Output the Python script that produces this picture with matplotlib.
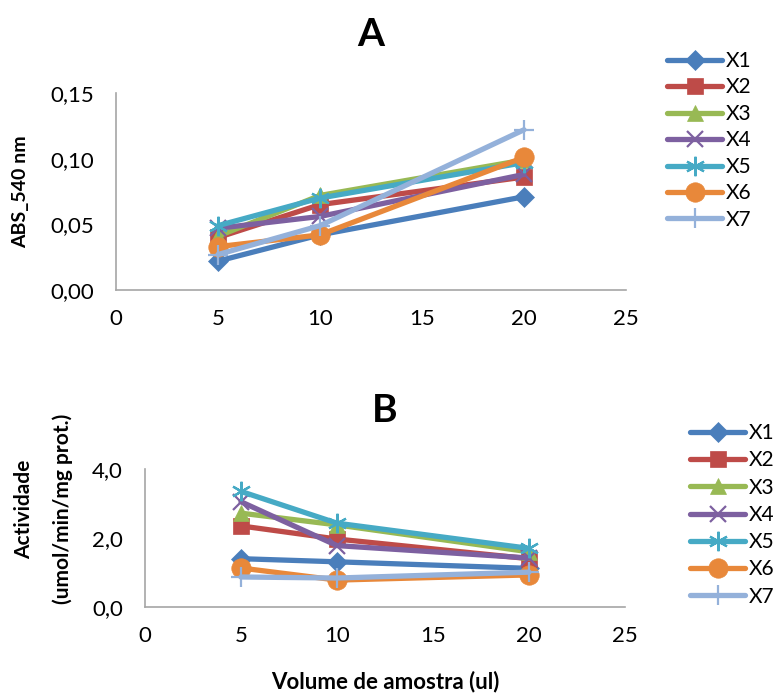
import numpy as np
import matplotlib.pyplot as plt

plt.rcParams['font.family'] = ['Lato', 'DejaVu Sans']

# volume de amostra (ul)
volumes = [5, 10, 20]
series_names = ['X1', 'X2', 'X3', 'X4', 'X5', 'X6', 'X7']

# A: ABS_540 nm
abs_x1 = [0.022, 0.042, 0.071]
abs_x2 = [0.040, 0.065, 0.086]
abs_x3 = [0.041, 0.072, 0.099]
abs_x4 = [0.047, 0.056, 0.088]
abs_x5 = [0.049, 0.070, 0.097]
abs_x6 = [0.033, 0.042, 0.101]
abs_x7 = [0.027, 0.049, 0.122]

# B: actividade (umol/min/mg prot.)
act_x1 = [1.40, 1.31, 1.12]
act_x2 = [2.35, 1.97, 1.40]
act_x3 = [2.72, 2.38, 1.60]
act_x4 = [3.05, 1.78, 1.42]
act_x5 = [3.35, 2.43, 1.70]
act_x6 = [1.13, 0.78, 0.93]
act_x7 = [0.87, 0.84, 1.01]

colors = ['#4A7EBB', '#BE4B48', '#98B954', '#7D60A0', '#46AAC5', '#E8883A', '#94B1DA']
markers = ['D', 's', '^', 'x', (6, 2, 0), 'o', '+']
msizes = [10, 12, 12, 12, 14, 14, 15]

W, H = 777, 693
fig = plt.figure(figsize=(W / 100, H / 100), dpi=100)
ax_a = fig.add_axes([116 / W, 1 - 290 / H, 510 / W, 197 / H])
ax_b = fig.add_axes([145 / W, 1 - 607 / H, 480 / W, 138 / H])


def draw(ax, data, title, ylim, yticks, yfmt, leg_xy, leg_space):
    for i, vals in enumerate(data):
        m = markers[i]
        thin = m in ('x', '+') or isinstance(m, tuple)
        ax.plot(volumes, vals, color=colors[i], lw=3.8, marker=m,
                markersize=msizes[i], markeredgewidth=1.6 if thin else 0.5,
                markeredgecolor=colors[i], label=series_names[i],
                solid_capstyle='round')
    ax.set_xlim(0, 25)
    ax.set_ylim(*ylim)
    ax.set_xticks([0, 5, 10, 15, 20, 25])
    ax.set_yticks(yticks)
    ax.set_yticklabels([yfmt.format(v).replace('.', ',') for v in yticks])
    ax.tick_params(length=0, labelsize=16)
    ax.tick_params(axis='y', pad=16)
    ax.tick_params(axis='x', pad=14)
    for s in ('top', 'right'):
        ax.spines[s].set_visible(False)
    for s in ('left', 'bottom'):
        ax.spines[s].set_color('#A6A6A6')
        ax.spines[s].set_linewidth(1.2)
    ax.set_title(title, fontsize=28, fontweight='bold', pad=34)
    ax.legend(loc='upper left', bbox_to_anchor=leg_xy, bbox_transform=fig.transFigure,
              frameon=False, fontsize=15, handlelength=2.65, labelspacing=leg_space,
              handletextpad=0.15, borderpad=0, borderaxespad=0)


draw(ax_a, [abs_x1, abs_x2, abs_x3, abs_x4, abs_x5, abs_x6, abs_x7], 'A',
     (0, 0.15), [0, 0.05, 0.10, 0.15], '{:.2f}', (667 / W, 1 - 51 / H), 0.31)
ax_a.set_ylabel('ABS_540 nm', fontsize=14, fontweight='bold', va='center')
ax_a.yaxis.set_label_coords((21 - 116) / 510, 0.5)

draw(ax_b, [act_x1, act_x2, act_x3, act_x4, act_x5, act_x6, act_x7], 'B',
     (0, 4.0), [0, 2.0, 4.0], '{:.1f}', (690 / W, 1 - 423 / H), 0.35)
ax_b.set_ylabel('Actividade\n(umol/min/mg prot.)', fontsize=15, fontweight='bold',
                va='center', linespacing=2.1)
ax_b.yaxis.set_label_coords((44 - 145) / 480, (607 - 509) / 138)
ax_b.set_xlabel('Volume de amostra (ul)', fontsize=16, fontweight='bold')
ax_b.xaxis.set_label_coords(0.5, (607 - 671) / 138)

fig.savefig('out.png', dpi=100)
